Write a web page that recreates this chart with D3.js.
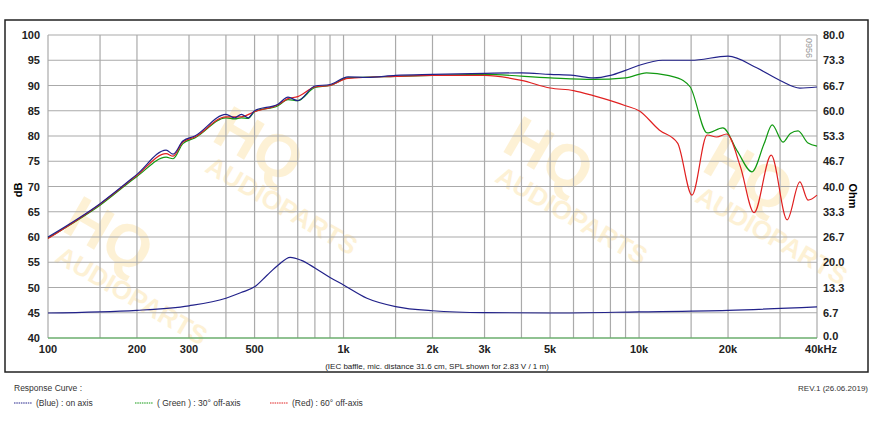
<!DOCTYPE html>
<html><head><meta charset="utf-8">
<script src="https://cdn.jsdelivr.net/npm/d3@7"></script>
<style>body{margin:0;background:#fff;font-family:Arial,"Liberation Sans",sans-serif}</style>
</head><body><div class="container"></div>
<script>
// on axis
const blueF = [100,150,200,251,265,286,314,400,428,451,476,500,600,649,700,800,900,1036,1200,1500,2000,3000,4000,5000,6000,7000,8000,9000,10000,12000,15000,20000,25000,30000,35000,40000]
const blueDb = [60,66.6,72.4,77.2,76.4,79,80,84.3,83.6,84.3,83.6,85,86.3,87.7,87,89.9,90.2,91.7,91.6,92,92.2,92.4,92.5,92.2,92,91.5,92,93,94,95,95,95.8,93.5,91,89.5,89.7]
// 30 deg
const greenF = [100,150,200,251,265,286,314,400,428,451,476,500,600,649,700,800,900,1036,1500,2000,3000,5000,7000,9000,10600,12500,14100,14900,17000,19200,21500,24100,26500,28200,30700,32500,34500,37300,40000]
const greenDb = [59.8,66.3,72,75.8,75.5,78.5,79.6,83.6,83.4,83.6,83.5,84.8,86,87.2,87,89.6,90,91.5,91.8,92,92.2,91.5,91.2,91.5,92.5,92,91,89.7,80.6,81.6,77,72.9,78.5,82.2,78.8,80.5,81,78.6,78]
// 60 deg
const redF = [100,150,200,251,265,286,314,400,450,500,600,649,700,800,900,1036,1500,2000,3000,4000,5000,6000,7000,8000,9000,10000,11700,13500,15100,17000,18300,19800,22000,24500,28000,31700,35000,37300,40000]
const redDb = [59.7,66.5,72.2,76.5,76,78.8,79.8,83.8,83.8,84.8,86.2,87.4,87.8,89.7,90,91.4,91.8,92,92,91,89.5,89,88,87,86,85,81.2,78.6,68.3,80.2,79.8,80.4,74,64.8,76.2,63.4,70.9,67.3,68.3]
// impedance
const impF = [100,200,300,400,450,500,550,600,660,720,800,900,1000,1200,1500,2000,3000,5000,10000,20000,40000]
const impOhm = [6.6,7.3,8.5,10.5,12,13.5,16.5,19.2,21.3,20.5,18.5,16,14,10.5,8.3,7.2,6.7,6.6,6.9,7.3,8.2]

const gridF = [100,150,200,300,400,500,600,700,800,900,1000,1500,2000,3000,4000,5000,6000,7000,8000,9000,10000,15000,20000,30000,40000]
const xLabelF = [100,200,300,500,1000,2000,3000,5000,10000,20000,40000]
const xLabels = ["100","200","300","500","1k","2k","3k","5k","10k","20k","40kHz"]
const dbTicks = d3.range(40,101,5)
const ohmTicks = d3.range(0,13).map(i => i*80/12)

const W = 875, H = 430
const svg = d3.select(".container").append("svg").attr("width", W).attr("height", H)

// faint watermark
const wm = [[210,140],[500,150],[700,170],[60,230]]
wm.forEach(p => {
  svg.append("text").attr("x", p[0]).attr("y", p[1])
    .attr("transform", `rotate(30,${p[0]},${p[1]})`)
    .attr("font-size", 60).attr("font-weight", "bold").attr("fill", "#fbd98a").attr("opacity", 0.35)
    .text("HQ")
  svg.append("text").attr("x", p[0]+10).attr("y", p[1]+30)
    .attr("transform", `rotate(30,${p[0]},${p[1]})`)
    .attr("font-size", 26).attr("font-weight", "bold").attr("fill", "#fbd98a").attr("opacity", 0.35)
    .text("AUDIOPARTS")
})

svg.append("rect").attr("x", 5).attr("y", 20).attr("width", 863).attr("height", 352)
  .attr("fill", "none").attr("stroke", "#222").attr("stroke-width", 1.5)

const x = d3.scaleLog().domain([100,40000]).range([48,817])
const y = d3.scaleLinear().domain([40,100]).range([338,35])
const yo = d3.scaleLinear().domain([0,80]).range([338,35])

const g = svg.append("g")
g.selectAll(".vg").data(gridF).join("line")
  .attr("x1", d => x(d)).attr("x2", d => x(d)).attr("y1", 35).attr("y2", 338)
  .attr("stroke", "#aaa").attr("stroke-width", 1.2)
g.selectAll(".hg").data(dbTicks).join("line")
  .attr("x1", 48).attr("x2", 817).attr("y1", d => y(d)).attr("y2", d => y(d))
  .attr("stroke", "#aaa").attr("stroke-width", 1.2)

g.selectAll(".yl").data(dbTicks).join("text")
  .attr("x", 40).attr("y", d => y(d) + 4).attr("text-anchor", "end")
  .attr("font-size", 11).attr("font-weight", "bold").attr("fill", "#222").text(d => d)
g.selectAll(".yr").data(ohmTicks).join("text")
  .attr("x", 823).attr("y", d => yo(d) + (d == 0 ? 2 : 4))
  .attr("font-size", 11).attr("font-weight", "bold").attr("fill", "#222").text(d => d.toFixed(1))
g.selectAll(".xl").data(xLabelF).join("text")
  .attr("x", (d,i) => i == xLabels.length-1 ? x(d)+4 : x(d)).attr("y", 353).attr("text-anchor", "middle")
  .attr("font-size", 11).attr("font-weight", "bold").attr("fill", "#222").text((d,i) => xLabels[i])

svg.append("text").attr("transform", "translate(22,190) rotate(-90)").attr("text-anchor", "middle")
  .attr("font-size", 11).attr("font-weight", "bold").text("dB")
svg.append("text").attr("transform", "translate(849,196) rotate(90)").attr("text-anchor", "middle")
  .attr("font-size", 11).attr("font-weight", "bold").text("Ohm")
svg.append("text").attr("transform", "translate(806,38) rotate(90)")
  .attr("font-size", 9).attr("fill", "#999").text("0956")

const line = d3.line().x(d => x(d[0])).y(d => y(d[1])).curve(d3.curveMonotoneX)
const lineO = d3.line().x(d => x(d[0])).y(d => yo(d[1])).curve(d3.curveMonotoneX)

svg.append("path").datum(d3.zip(impF, impOhm)).attr("d", lineO)
  .attr("fill", "none").attr("stroke", "#22228a").attr("stroke-width", 1.2)
svg.append("path").datum(d3.zip(greenF, greenDb)).attr("d", line)
  .attr("fill", "none").attr("stroke", "#119911").attr("stroke-width", 1.2)
svg.append("path").datum(d3.zip(redF, redDb)).attr("d", line)
  .attr("fill", "none").attr("stroke", "#e02020").attr("stroke-width", 1.2)
svg.append("path").datum(d3.zip(blueF, blueDb)).attr("d", line)
  .attr("fill", "none").attr("stroke", "#22228a").attr("stroke-width", 1.2)

svg.append("line").attr("x1", 48).attr("x2", 817).attr("y1", 338).attr("y2", 338)
  .attr("stroke", "#4caf50").attr("stroke-width", 1.2)

svg.append("text").attr("x", 437).attr("y", 369).attr("text-anchor", "middle")
  .attr("font-size", 8).attr("fill", "#222")
  .text("(IEC baffle, mic. distance 31.6 cm, SPL shown for 2.83 V / 1 m)")

svg.append("text").attr("x", 14).attr("y", 391).attr("font-size", 8.5).attr("fill", "#333").text("Response Curve :")
svg.append("text").attr("x", 868).attr("y", 391).attr("text-anchor", "end").attr("font-size", 8).attr("fill", "#333").text("REV.1 (26.06.2019)")

const legend = [["#22228a","(Blue)  : on axis",14],["#119911","( Green ) : 30° off-axis",135],["#e02020","(Red) : 60° off-axis",270]]
legend.forEach(l => {
  svg.append("line").attr("x1", l[2]).attr("x2", l[2]+18).attr("y1", 403).attr("y2", 403)
    .attr("stroke", l[0]).attr("stroke-width", 1).attr("stroke-dasharray", "1.5,0.8")
  svg.append("text").attr("x", l[2]+22).attr("y", 406).attr("font-size", 8.5).attr("fill", "#333").text(l[1])
})
</script></body></html>
